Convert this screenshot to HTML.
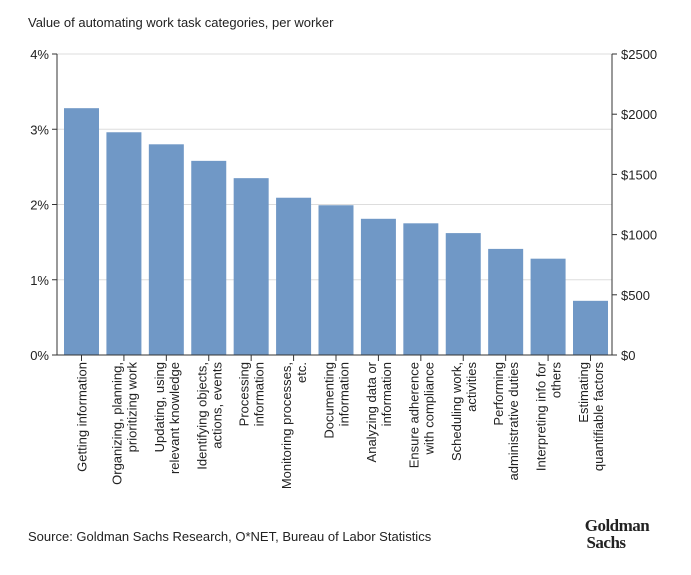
<!DOCTYPE html>
<html><head><meta charset="utf-8"><style>
body{margin:0;background:#fff;width:691px;height:570px;overflow:hidden;font-family:"Liberation Sans",sans-serif}
svg text{font-family:"Liberation Sans",sans-serif;fill:#222}
</style></head><body>
<svg id="c" width="691" height="570">
<text x="28" y="27" font-size="13">Value of automating work task categories, per worker</text>
<text x="28" y="541" font-size="13">Source: Goldman Sachs Research, O*NET, Bureau of Labor Statistics</text>
<text x="617" y="531" font-size="17" font-weight="bold" text-anchor="middle" style="font-family:'Liberation Serif',serif;letter-spacing:-0.5px">Goldman</text>
<text x="606" y="548" font-size="17" font-weight="bold" text-anchor="middle" style="font-family:'Liberation Serif',serif;letter-spacing:-0.5px">Sachs</text>
</svg>
<script>
const categories=[["Getting information"],["Organizing, planning,","prioritizing work"],["Updating, using","relevant knowledge"],["Identifying objects,","actions, events"],["Processing","information"],["Monitoring processes,","etc."],["Documenting","information"],["Analyzing data or","information"],["Ensure adherence","with compliance"],["Scheduling work,","activities"],["Performing","administrative duties"],["Interpreting info for","others"],["Estimating","quantifiable factors"]];
const values=[3.28,2.96,2.80,2.58,2.35,2.09,1.99,1.81,1.75,1.62,1.41,1.28,0.72];
const leftTicks=[0,1,2,3,4];
const leftLabels=["0%","1%","2%","3%","4%"];
const rightTicks=[0,500,1000,1500,2000,2500];
const rightLabels=["$0","$500","$1000","$1500","$2000","$2500"];
const svg=document.getElementById('c');const NS='http://www.w3.org/2000/svg';
const X0=57,X1=612,Y0=355,Y1=54;
const y=v=>Y0-(v/4)*(Y0-Y1);
const yr=v=>Y0-(v/2500)*(Y0-Y1);
const firstC=81.5,lastC=590.5;
const step=(lastC-firstC)/(categories.length-1);
const xc=i=>firstC+step*i;
function mk(t,a){const e=document.createElementNS(NS,t);for(const k in a)e.setAttribute(k,a[k]);svg.appendChild(e);return e;}
leftTicks.forEach((t,i)=>{
 const g=mk('line',{x1:X0,x2:X1,y1:y(t),y2:y(t),stroke:'#ddd','stroke-width':1});
 
 
 const tk=mk('line',{x1:X0-5,x2:X0,y1:y(t),y2:y(t),stroke:'#333'});
 
 
 const l=mk('text',{x:X0-8,y:y(t)+5,'font-size':13,'text-anchor':'end'});l.textContent=leftLabels[i];
 
 
});
rightTicks.forEach((t,i)=>{
 const tk=mk('line',{x1:X1,x2:X1+5,y1:yr(t),y2:yr(t),stroke:'#333'});
 
 
 const l=mk('text',{x:X1+9,y:yr(t)+5,'font-size':13});l.textContent=rightLabels[i];
 
 
});
values.forEach((v,i)=>{
 const b=mk('rect',{x:xc(i)-17.5,y:y(v),width:35,height:Y0-y(v),fill:'#7098c6'});
 
 
 const tk=mk('line',{x1:xc(i),x2:xc(i),y1:Y0,y2:Y0+6,stroke:'#333'});
 
 
 const lines=categories[i];const n=lines.length;
 lines.forEach((s,j)=>{
  const cx=xc(i)+5-(n-1)*7.5+j*15;
  const t=mk('text',{x:0,y:0,'font-size':13,'text-anchor':'end',transform:`translate(${cx},362) rotate(-90)`});
  t.textContent=s;
  
  
 });
});
const ax=mk('line',{x1:X0,x2:X1,y1:Y0,y2:Y0,stroke:'#333'});


const la=mk('line',{x1:X0,x2:X0,y1:Y1,y2:Y0,stroke:'#333'});


const ra=mk('line',{x1:X1,x2:X1,y1:Y1,y2:Y0,stroke:'#333'});


</script>
</body></html>
